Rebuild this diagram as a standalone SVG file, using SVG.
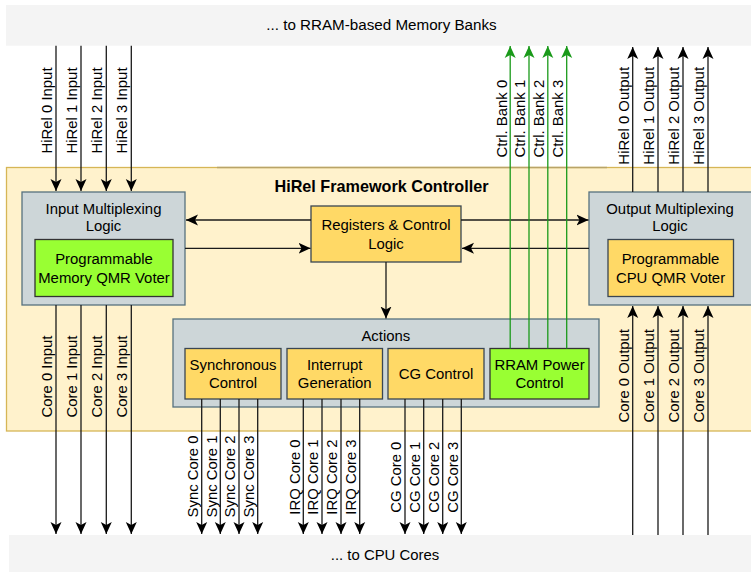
<svg xmlns="http://www.w3.org/2000/svg" width="751" height="572" viewBox="0 0 751 572">
<style>
text{font-family:"Liberation Sans",Arial,sans-serif;font-size:14.9px;fill:#000;text-anchor:middle}
.c{dominant-baseline:central}
.ln{stroke:#1a1a1a;stroke-width:1.3;fill:none}
.gn{stroke:#1a9a1a;stroke-width:1.3;fill:none}
.gray{fill:#cdd6d8;stroke:#56717f;stroke-width:1.3}
.yel{fill:#ffd966;stroke:#3a4652;stroke-width:1.3}
.grn{fill:#99ff33;stroke:#333;stroke-width:1.3}
.ban{fill:#f4f4f4}
</style>
<defs>
<marker id="ah" viewBox="0 0 12 12" refX="12" refY="6" markerWidth="12" markerHeight="12" markerUnits="userSpaceOnUse" orient="auto"><path d="M0,0.5 L12,6 L0,11.5 L3,6 Z" fill="#000"/></marker>
<marker id="ahg" viewBox="0 0 12 12" refX="12" refY="6" markerWidth="12" markerHeight="12" markerUnits="userSpaceOnUse" orient="auto"><path d="M0,0.5 L12,6 L0,11.5 L3,6 Z" fill="#1a9a1a"/></marker>
</defs>

<g id="top-banner"><rect class="ban" x="6" y="5" width="760" height="40.7"/><text class="c" x="381.5" y="24.5" style="font-size:15.2px">... to RRAM-based Memory Banks</text></g>
<g id="bottom-banner"><rect class="ban" x="9" y="535" width="760" height="45"/><text class="c" x="385" y="555">... to CPU Cores</text></g>

<g id="controller"><rect x="6.5" y="167.5" width="760" height="263.5" fill="#fff2cc" stroke="#d6b656" stroke-width="1.3"/><line x1="217" y1="167.5" x2="607" y2="167.5" stroke="#b9a468" stroke-width="1.3"/><text class="c" x="381.5" y="185.7" style="font-weight:bold;font-size:16.2px">HiRel Framework Controller</text></g>

<g id="input-mux"><rect class="gray" x="22" y="192" width="163" height="113"/><text class="c" x="103.5" y="209.2">Input Multiplexing</text><text class="c" x="103.5" y="226">Logic</text></g>
<g id="mem-voter"><rect class="grn" x="35" y="239.5" width="138" height="57"/><text class="c" x="104" y="258.8">Programmable</text><text class="c" x="104" y="277.8">Memory QMR Voter</text></g>

<g id="registers"><rect class="yel" x="311" y="206" width="150" height="56"/><text class="c" x="386" y="224.8">Registers &amp; Control</text><text class="c" x="386" y="243.8">Logic</text></g>

<g id="output-mux"><rect class="gray" x="589" y="192" width="180" height="113"/><text class="c" x="670" y="209.2">Output Multiplexing</text><text class="c" x="670" y="226">Logic</text></g>
<g id="cpu-voter"><rect class="yel" x="608" y="239.5" width="125.5" height="57"/><text class="c" x="670.5" y="258.8">Programmable</text><text class="c" x="670.5" y="277.8">CPU QMR Voter</text></g>

<g id="actions"><rect class="gray" x="173" y="319" width="426" height="88"/><text class="c" x="385.8" y="335.7">Actions</text></g>
<g id="sync-control"><rect class="yel" x="185" y="348.5" width="96" height="50.5"/><text class="c" x="233" y="364.8">Synchronous</text><text class="c" x="233" y="382.6">Control</text></g>
<g id="interrupt-gen"><rect class="yel" x="287" y="348.5" width="95.5" height="50.5"/><text class="c" x="334.7" y="364.8">Interrupt</text><text class="c" x="334.7" y="382.6">Generation</text></g>
<g id="cg-control"><rect class="yel" x="388" y="348.5" width="96" height="50.5"/><text class="c" x="436" y="373.7">CG Control</text></g>
<g id="rram-power"><rect class="grn" x="490" y="348.5" width="99" height="50.5"/><text class="c" x="539.5" y="364.8">RRAM Power</text><text class="c" x="539.5" y="382.6">Control</text></g>

<g id="connectors">
<line class="ln" x1="311" y1="220" x2="186" y2="220" marker-end="url(#ah)"/>
<line class="ln" x1="185" y1="248.3" x2="310.5" y2="248.3" marker-end="url(#ah)"/>
<line class="ln" x1="461" y1="220" x2="588.5" y2="220" marker-end="url(#ah)"/>
<line class="ln" x1="589" y1="248.3" x2="462" y2="248.3" marker-end="url(#ah)"/>
<line class="ln" x1="386" y1="262" x2="386" y2="318.5" marker-end="url(#ah)"/>

<line class="ln" x1="56" y1="45.7" x2="56" y2="191" marker-end="url(#ah)"/>
<line class="ln" x1="81" y1="45.7" x2="81" y2="191" marker-end="url(#ah)"/>
<line class="ln" x1="106.3" y1="45.7" x2="106.3" y2="191" marker-end="url(#ah)"/>
<line class="ln" x1="131.3" y1="45.7" x2="131.3" y2="191" marker-end="url(#ah)"/>
<text transform="translate(52,110.5) rotate(-90)">HiRel 0 Input</text>
<text transform="translate(77,110.5) rotate(-90)">HiRel 1 Input</text>
<text transform="translate(102.3,110.5) rotate(-90)">HiRel 2 Input</text>
<text transform="translate(127.3,110.5) rotate(-90)">HiRel 3 Input</text>

<line class="ln" x1="56" y1="305" x2="56" y2="534" marker-end="url(#ah)"/>
<line class="ln" x1="81" y1="305" x2="81" y2="534" marker-end="url(#ah)"/>
<line class="ln" x1="106.3" y1="305" x2="106.3" y2="534" marker-end="url(#ah)"/>
<line class="ln" x1="131.3" y1="305" x2="131.3" y2="534" marker-end="url(#ah)"/>
<text transform="translate(52,376.5) rotate(-90)">Core 0 Input</text>
<text transform="translate(77,376.5) rotate(-90)">Core 1 Input</text>
<text transform="translate(102.3,376.5) rotate(-90)">Core 2 Input</text>
<text transform="translate(127.3,376.5) rotate(-90)">Core 3 Input</text>

<line class="gn" x1="510.2" y1="348.5" x2="510.2" y2="46" marker-end="url(#ahg)"/>
<line class="gn" x1="529" y1="348.5" x2="529" y2="46" marker-end="url(#ahg)"/>
<line class="gn" x1="547.8" y1="348.5" x2="547.8" y2="46" marker-end="url(#ahg)"/>
<line class="gn" x1="566.7" y1="348.5" x2="566.7" y2="46" marker-end="url(#ahg)"/>
<text transform="translate(506.5,118.7) rotate(-90)">Ctrl. Bank 0</text>
<text transform="translate(525.3,118.7) rotate(-90)">Ctrl. Bank 1</text>
<text transform="translate(544.1,118.7) rotate(-90)">Ctrl. Bank 2</text>
<text transform="translate(563,118.7) rotate(-90)">Ctrl. Bank 3</text>

<line class="ln" x1="632.7" y1="192" x2="632.7" y2="47" marker-end="url(#ah)"/>
<line class="ln" x1="658" y1="192" x2="658" y2="47" marker-end="url(#ah)"/>
<line class="ln" x1="683" y1="192" x2="683" y2="47" marker-end="url(#ah)"/>
<line class="ln" x1="708" y1="192" x2="708" y2="47" marker-end="url(#ah)"/>
<text transform="translate(628.9,115.8) rotate(-90)">HiRel 0 Output</text>
<text transform="translate(654.2,115.8) rotate(-90)">HiRel 1 Output</text>
<text transform="translate(679.2,115.8) rotate(-90)">HiRel 2 Output</text>
<text transform="translate(704.2,115.8) rotate(-90)">HiRel 3 Output</text>

<line class="ln" x1="632.7" y1="535" x2="632.7" y2="306" marker-end="url(#ah)"/>
<line class="ln" x1="658" y1="535" x2="658" y2="306" marker-end="url(#ah)"/>
<line class="ln" x1="683" y1="535" x2="683" y2="306" marker-end="url(#ah)"/>
<line class="ln" x1="708" y1="535" x2="708" y2="306" marker-end="url(#ah)"/>
<text transform="translate(628.9,375.8) rotate(-90)">Core 0 Output</text>
<text transform="translate(654.2,375.8) rotate(-90)">Core 1 Output</text>
<text transform="translate(679.2,375.8) rotate(-90)">Core 2 Output</text>
<text transform="translate(704.2,375.8) rotate(-90)">Core 3 Output</text>

<line class="ln" x1="201.7" y1="399" x2="201.7" y2="534" marker-end="url(#ah)"/>
<line class="ln" x1="220.3" y1="399" x2="220.3" y2="534" marker-end="url(#ah)"/>
<line class="ln" x1="239" y1="399" x2="239" y2="534" marker-end="url(#ah)"/>
<line class="ln" x1="257.7" y1="399" x2="257.7" y2="534" marker-end="url(#ah)"/>
<text transform="translate(197.9,476.5) rotate(-90)">Sync Core 0</text>
<text transform="translate(216.5,476.5) rotate(-90)">Sync Core 1</text>
<text transform="translate(235.2,476.5) rotate(-90)">Sync Core 2</text>
<text transform="translate(253.9,476.5) rotate(-90)">Sync Core 3</text>

<line class="ln" x1="303.3" y1="399" x2="303.3" y2="534" marker-end="url(#ah)"/>
<line class="ln" x1="322" y1="399" x2="322" y2="534" marker-end="url(#ah)"/>
<line class="ln" x1="341" y1="399" x2="341" y2="534" marker-end="url(#ah)"/>
<line class="ln" x1="359.7" y1="399" x2="359.7" y2="534" marker-end="url(#ah)"/>
<text transform="translate(299.5,477) rotate(-90)">IRQ Core 0</text>
<text transform="translate(318.2,477) rotate(-90)">IRQ Core 1</text>
<text transform="translate(337.2,477) rotate(-90)">IRQ Core 2</text>
<text transform="translate(355.9,477) rotate(-90)">IRQ Core 3</text>

<line class="ln" x1="405" y1="399" x2="405" y2="534" marker-end="url(#ah)"/>
<line class="ln" x1="423.7" y1="399" x2="423.7" y2="534" marker-end="url(#ah)"/>
<line class="ln" x1="442.7" y1="399" x2="442.7" y2="534" marker-end="url(#ah)"/>
<line class="ln" x1="461.3" y1="399" x2="461.3" y2="534" marker-end="url(#ah)"/>
<text transform="translate(401.2,477.2) rotate(-90)">CG Core 0</text>
<text transform="translate(419.9,477.2) rotate(-90)">CG Core 1</text>
<text transform="translate(438.9,477.2) rotate(-90)">CG Core 2</text>
<text transform="translate(457.5,477.2) rotate(-90)">CG Core 3</text>
</g>
</svg>
